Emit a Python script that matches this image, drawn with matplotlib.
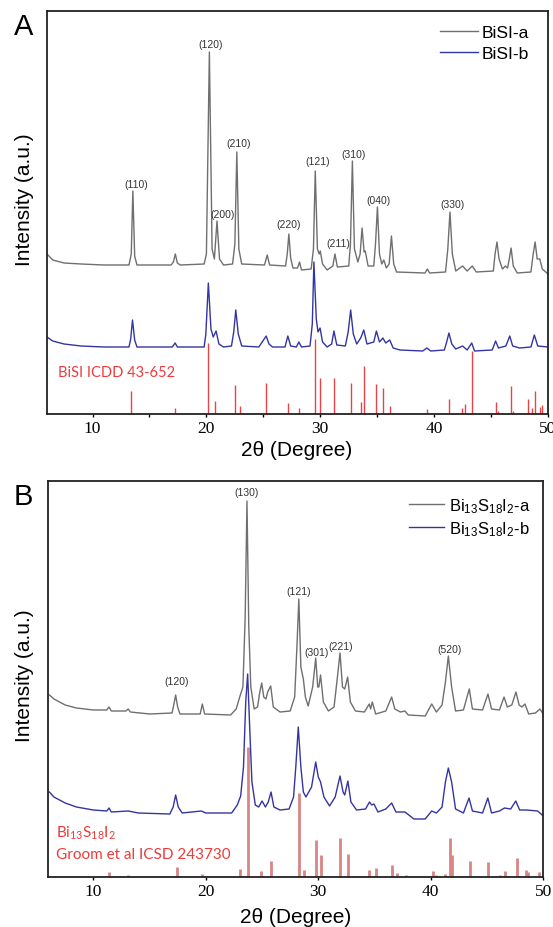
import numpy as np
import matplotlib
matplotlib.use("Agg")
import matplotlib.pyplot as plt

plt.rcParams['font.family'] = ['Liberation Sans', 'DejaVu Sans']
plt.rcParams['mathtext.default'] = 'regular'

# ---- panel A: BiSI, (2theta, intensity a.u.) ----
bisi_a = [(6.0,160),(6.5,154),(7.5,151),(9,150),(11,149),(13.2,149),(13.4,160),(13.54,223),(13.7,158),(13.9,149),
          (16.9,149),(17.1,152),(17.27,160),(17.45,151),(17.7,149),(19.8,150),(20.0,160),(20.26,362),(20.5,165),
          (20.7,155),(20.93,193),(21.15,155),(21.5,149),(22.3,150),(22.5,170),(22.67,262),(22.85,165),(23.1,150),
          (25.1,149),(25.34,159),(25.55,149),(26.95,148),(27.1,160),(27.24,180),(27.4,156),(27.6,146),(28.0,146),
          (28.18,152),(28.35,144),(29.2,145),(29.4,165),(29.56,243),(29.75,165),(29.9,160),(30.0,163),(30.2,150),
          (30.6,144),(31.1,148),(31.29,160),(31.5,147),(32.5,148),(32.65,170),(32.82,253),(33.0,165),(33.3,152),
          (33.5,160),(33.67,186),(33.85,162),(33.95,163),(34.2,148),(34.7,148),(34.85,170),(35.02,207),(35.2,160),
          (35.4,150),(35.58,154),(35.8,146),(36.05,150),(36.25,178),(36.45,150),(36.7,142),(39.2,141),(39.4,145),
          (39.6,141),(41.0,142),(41.2,165),(41.39,202),(41.6,160),(41.9,143),(42.5,148),(42.9,143),(43.35,148),
          (43.7,142),(45.2,143),(45.35,160),(45.52,172),(45.7,155),(46.0,145),(46.26,148),(46.45,146),(46.6,155),
          (46.76,166),(46.95,148),(47.3,141),(48.5,142),(48.7,160),(48.87,172),(49.05,155),(49.28,155),(49.5,145),
          (50,140)]
bisi_b = [(6.0,77),(6.5,73),(7.5,70),(9,68),(11,67),(13.2,67),(13.35,75),(13.51,94),(13.7,74),(13.9,67),(17.0,67),
          (17.25,71),(17.45,67),(19.8,67),(19.95,80),(20.17,131),(20.4,85),(20.6,77),(20.85,83),(21.1,70),(21.5,67),
          (22.2,68),(22.4,82),(22.58,104),(22.8,80),(23.1,68),(24.6,67),(24.9,72),(25.25,78),(25.5,70),(25.8,67),
          (26.9,67),(27.15,78),(27.4,68),(27.9,67),(28.12,72),(28.35,67),(29.1,68),(29.3,90),(29.44,152),(29.65,95),
          (29.8,82),(29.98,86),(30.2,72),(30.6,67),(31.0,70),(31.2,83),(31.45,69),(32.2,68),(32.45,82),(32.67,104),
          (32.9,80),(33.2,70),(33.55,76),(33.82,84),(34.1,70),(34.7,72),(34.93,83),(35.2,72),(35.5,76),(35.75,71),
          (36.1,74),(36.4,66),(37.0,64),(39.0,63),(39.36,66),(39.7,63),(40.9,64),(41.1,72),(41.3,81),(41.55,70),
          (41.9,65),(42.5,68),(42.9,64),(43.3,71),(43.55,63),(45.1,64),(45.4,73),(45.65,66),(46.3,68),(46.64,78),
          (46.9,68),(47.5,66),(48.5,67),(48.8,79),(49.1,68),(50,67)]
icdd_pos = [13.42, 17.2, 20.17, 20.79, 22.55, 22.96, 25.25, 27.17, 28.1, 29.5, 29.94, 31.2, 32.67, 33.55, 33.85,
            34.93, 35.49, 36.16, 39.36, 41.33, 42.45, 42.7, 43.3, 45.44, 45.6, 46.73, 46.9, 48.25, 48.6, 48.87,
            49.28, 49.5]
icdd_int = [23, 6, 71, 13, 29, 8, 31, 11, 6, 75, 36, 36, 31, 12, 48, 30, 26, 8, 5, 15, 6, 10, 63, 12, 3, 28, 3,
            15, 6, 23, 7, 9]
hkl_a = ['(110)', '(120)', '(200)', '(210)', '(220)', '(121)', '(211)', '(310)', '(040)', '(330)']
hkl_a_pos = [13.83, 20.35, 21.43, 22.8, 27.24, 29.75, 31.6, 32.9, 35.15, 41.6]
hkl_a_int = [230, 370, 200, 271, 190, 253, 171, 260, 214, 210]

# ---- panel B: Bi13S18I2 ----
bsi_a = [(6.1,182),(6.5,178),(7.5,172),(8.5,169),(10,167),(11.2,167),(11.4,170),(11.6,166),(12.9,166),(13.1,168),
         (13.3,165),(15,163),(17.0,164),(17.15,172),(17.32,182),(17.5,170),(17.7,163),(19.5,163),(19.69,173),
         (19.9,163),(22.2,162),(22.7,168),(23.04,181),(23.3,190),(23.5,260),(23.66,376),(23.82,250),(24.0,190),
         (24.3,168),(24.6,170),(24.8,185),(24.97,194),(25.15,180),(25.35,178),(25.5,185),(25.77,191),(26.0,170),
         (26.6,165),(27.5,166),(27.9,180),(28.1,230),(28.27,278),(28.45,210),(28.67,198),(28.85,180),(29.1,171),
         (29.5,190),(29.77,219),(29.95,190),(30.05,190),(30.2,202),(30.45,175),(30.9,166),(31.4,170),(31.7,200),
         (31.93,224),(32.15,190),(32.35,188),(32.61,200),(32.85,175),(33.3,166),(34.1,165),(34.53,173),(34.65,168),
         (34.8,175),(35.1,163),(36.0,166),(36.52,180),(36.8,168),(37.3,165),(37.7,166),(38.0,162),(39.5,161),
         (40.08,173),(40.5,165),(41.0,172),(41.3,195),(41.56,221),(41.85,190),(42.2,166),(42.9,167),(43.42,188),
         (43.7,168),(44.6,167),(45.08,183),(45.4,168),(46.1,167),(46.51,180),(46.8,170),(47.2,172),(47.57,185),
         (47.85,172),(48.1,170),(48.37,173),(48.7,163),(49.3,164),(49.7,168),(50,163)]
bsi_b = [(6.1,85),(6.5,80),(7.5,74),(8.5,70),(10,67),(11.2,66),(11.4,69),(11.6,65),(13.1,66),(14,64),(16.8,63),
         (17.1,70),(17.32,82),(17.55,70),(17.9,64),(19.6,66),(20,64),(22.3,64),(22.8,72),(23.1,81),(23.35,110),
         (23.55,175),(23.72,203),(23.9,150),(24.1,95),(24.4,72),(24.7,70),(25.0,76),(25.3,70),(25.55,75),(25.8,85),
         (26.05,70),(26.6,67),(27.4,68),(27.8,80),(28.0,110),(28.22,150),(28.45,110),(28.67,85),(28.9,80),(29.4,90),
         (29.77,115),(30.0,100),(30.2,95),(30.5,80),(31.0,71),(31.5,80),(31.93,101),(32.2,85),(32.35,82),(32.63,96),
         (32.9,75),(33.4,67),(34.2,68),(34.55,75),(34.75,72),(34.95,73),(35.3,65),(36.0,68),(36.52,74),(36.9,65),
         (37.7,65),(38.5,58),(39.5,58),(40.08,66),(40.5,64),(41.0,70),(41.3,95),(41.56,109),(41.85,95),(42.2,68),
         (42.9,64),(43.4,79),(43.7,66),(44.6,64),(45.07,79),(45.4,64),(46.1,66),(46.55,69),(47.1,68),(47.55,76),
         (47.9,67),(48.5,67),(49.5,66),(50,61)]
icsd_pos = [6.4, 11.4, 13.1, 17.41, 19.7, 23.07, 23.72, 24.91, 25.78, 28.28, 28.76, 29.77, 30.2, 31.93, 32.63, 33.1,
            34.55, 35.1, 36.52, 36.97, 37.8, 40.17, 40.5, 41.3, 41.68, 41.86, 43.48, 45.1, 46.13, 46.64, 47.63,
            48.45, 48.66, 49.6]
icsd_int = [1.5, 5, 2, 10, 3.5, 8, 130, 6, 16, 84, 7, 37, 22, 39, 23, 1.5, 7, 9, 12, 4, 2, 6, 2, 3, 39, 22, 16, 15,
            2, 6, 19, 7, 5, 5]
hkl_b = ['(120)', '(130)', '(121)', '(301)', '(221)', '(520)']
hkl_b_pos = [17.43, 23.66, 28.27, 29.88, 32.02, 41.65]
hkl_b_int = [196, 385, 286, 225, 231, 228]

W, H = 553, 928
fig = plt.figure(figsize=(W / 100, H / 100), dpi=100)


def px_axes(l, t, r, b):
    return fig.add_axes([l / W, 1 - b / H, (r - l) / W, (b - t) / H])


def style(ax, top, minor):
    ax.set_xlim(6, 50)
    ax.set_ylim(0, top)
    ax.set_yticks([])
    ax.set_xticks([10, 20, 30, 40, 50])
    if minor:
        ax.set_xticks([15, 25, 35, 45], minor=True)
    ax.tick_params(axis='x', which='both', direction='out', length=2.5, width=1, labelsize=12.5, pad=2)
    for lab in ax.get_xticklabels():
        lab.set_family('Liberation Serif')
    for s in ax.spines.values():
        s.set_linewidth(1.3)
        s.set_color('#222222')


gray = '#6f6f6f'
blue = '#3434a2'

# panel A
axA = px_axes(47, 12, 548, 415)
style(axA, 403, True)
xa, ya = zip(*bisi_a)
xb, yb = zip(*bisi_b)
axA.plot(xa, ya, color=gray, lw=1.0, label='BiSI-a')
axA.plot(xb, yb, color=blue, lw=1.0, label='BiSI-b')
axA.vlines(icdd_pos, 0, icdd_int, color='#e8434b', lw=1.0)
for t, x, y in zip(hkl_a, hkl_a_pos, hkl_a_int):
    axA.text(x, y, t, fontsize=7.5, ha='center', va='center', color='#333333')
axA.text(0.022, 42 / 403, 'BiSI ICDD 43-652', transform=axA.transAxes, color='#ee3a3a',
         fontsize=10.5, family='Lato', va='center')
axA.legend(loc='upper right', frameon=False, fontsize=12.6, handlelength=2.2, handletextpad=0.2,
           labelspacing=0.31, bbox_to_anchor=(0.962, 0.965), borderaxespad=0, borderpad=0)

# panel B
axB = px_axes(48.3, 482, 543.3, 878)
style(axB, 396, False)
xa, ya = zip(*bsi_a)
xb, yb = zip(*bsi_b)
axB.plot(xa, ya, color=gray, lw=1.0, label=r'Bi$_{13}$S$_{18}$I$_2$-a')
axB.plot(xb, yb, color=blue, lw=1.0, label=r'Bi$_{13}$S$_{18}$I$_2$-b')
axB.vlines(icsd_pos, 0, icsd_int, color='#d98585', lw=2.0)
for t, x, y in zip(hkl_b, hkl_b_pos, hkl_b_int):
    axB.text(x, y, t, fontsize=7.5, ha='center', va='center', color='#333333')
axB.text(0.016, 45 / 396, 'Bi$_{13}$S$_{18}$I$_2$', transform=axB.transAxes,
         color='#ee3a3a', fontsize=11, family='Lato', va='center')
axB.text(0.016, 23 / 396, 'Groom et al ICSD 243730', transform=axB.transAxes,
         color='#ee3a3a', fontsize=11, family='Lato', va='center')
axB.legend(loc='upper right', frameon=False, fontsize=12, handlelength=2.1, handletextpad=0.3,
           labelspacing=0.25, bbox_to_anchor=(0.975, 0.962), borderaxespad=0, borderpad=0)

# panel letters and axis labels
fig.text(14 / W, 1 - 13 / H, 'A', fontsize=21, va='top', ha='left')
fig.text(14 / W, 1 - 483 / H, 'B', fontsize=21, va='top', ha='left')
fig.text(24 / W, 1 - 200 / H, 'Intensity (a.u.)', rotation=90, fontsize=15, va='center', ha='center')
fig.text(24 / W, 1 - 676 / H, 'Intensity (a.u.)', rotation=90, fontsize=15, va='center', ha='center')
fig.text(297 / W, 1 - 451 / H, '2θ (Degree)', fontsize=15, va='center', ha='center')
fig.text(296 / W, 1 - 918 / H, '2θ (Degree)', fontsize=15, va='center', ha='center')

fig.savefig('out.png', dpi=100)
